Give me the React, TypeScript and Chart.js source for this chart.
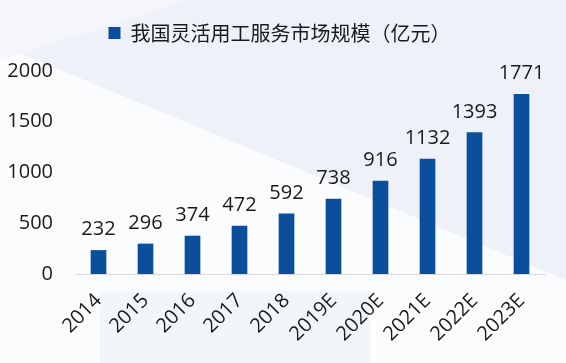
import React, { useEffect, useRef } from "react";
import { Chart, registerables } from "chart.js";

Chart.register(...registerables);

const categories = ["2014", "2015", "2016", "2017", "2018", "2019E", "2020E", "2021E", "2022E", "2023E"];
const marketSize = [232, 296, 374, 472, 592, 738, 916, 1132, 1393, 1771];
const seriesName = "我国灵活用工服务市场规模（亿元）";
const yMin = 0;
const yMax = 2000;
const yStep = 500;

const BAR_COLOR = "#0b4e9b";
const TEXT_COLOR = "#1a1a1a";
const NUM_FONT = "'Open Sans', 'Noto Sans', sans-serif";
const CJK_FONT = "'Noto Sans CJK SC', 'Noto Sans', sans-serif";

export default function App() {
  const ref = useRef<HTMLCanvasElement | null>(null);

  useEffect(() => {
    document.body.style.margin = "0";
    const canvas = ref.current;
    if (!canvas) return;

    const valueLabels = {
      id: "valueLabels",
      afterDatasetsDraw(chart: any) {
        const ctx = chart.ctx;
        const meta = chart.getDatasetMeta(0);
        ctx.save();
        ctx.font = `20px ${NUM_FONT}`;
        ctx.fillStyle = TEXT_COLOR;
        ctx.textAlign = "center";
        ctx.textBaseline = "alphabetic";
        meta.data.forEach((bar: any, i: number) => {
          ctx.fillText(String(marketSize[i]), bar.x, bar.y - 15);
        });
        ctx.restore();
      },
    };

    const legendPlace = {
      id: "legendPlace",
      beforeInit(chart: any) {
        const fit = chart.legend.fit;
        chart.legend.fit = function () {
          fit.call(this);
          this.height += 18;
        };
      },
      afterLayout(chart: any) {
        if (chart.legend) {
          chart.legend.left += 7;
          chart.legend.right += 7;
        }
      },
    };

    const chart = new Chart(canvas, {
      type: "bar",
      data: {
        labels: categories,
        datasets: [
          {
            label: seriesName,
            data: marketSize,
            backgroundColor: BAR_COLOR,
            borderWidth: 0,
            barThickness: 15,
          },
        ],
      },
      options: {
        responsive: false,
        animation: false,
        devicePixelRatio: 1,
        layout: { padding: { top: 13, right: 21, left: 0, bottom: 0 } },
        plugins: {
          tooltip: { enabled: false },
          legend: {
            display: true,
            position: "top",
            labels: {
              boxWidth: 12,
              boxHeight: 12,
              padding: 10,
              color: TEXT_COLOR,
              font: { size: 20, family: CJK_FONT },
            },
          },
        },
        scales: {
          x: {
            grid: { display: false, drawTicks: false },
            border: { display: true, color: "#d6d9de", width: 1 },
            ticks: {
              color: TEXT_COLOR,
              font: { size: 20, family: NUM_FONT },
              minRotation: 45,
              maxRotation: 45,
              autoSkip: false,
              padding: 15,
            },
            afterFit(scale: any) {
              scale.height = 89;
            },
          },
          y: {
            min: yMin,
            max: yMax,
            grid: { display: false, drawTicks: false },
            border: { display: false },
            ticks: {
              stepSize: yStep,
              color: TEXT_COLOR,
              font: { size: 20, family: NUM_FONT },
              padding: 22,
              callback: (v: any) => String(v),
            },
            afterFit(scale: any) {
              scale.width = 75;
            },
          },
        },
      },
      plugins: [valueLabels, legendPlace],
    });

    return () => chart.destroy();
  }, []);

  return (
    <div
      style={{
        position: "fixed",
        left: 0,
        top: 0,
        width: 566,
        height: 363,
        overflow: "hidden",
        background: "#eef2f8",
      }}
    >
      <div
        style={{
          position: "absolute",
          inset: 0,
          background: "#fbfcfe",
          clipPath: "polygon(0px 45px, 566px 280px, 566px 363px, 0px 363px)",
        }}
      />
      <div
        style={{
          position: "absolute",
          inset: 0,
          background: "#f2f5f9",
          clipPath: "polygon(100px 292px, 370px 292px, 370px 363px, 100px 363px)",
        }}
      />
      <div
        style={{
          position: "absolute",
          inset: 0,
          background: "#f4f6fa",
          clipPath: "polygon(0px 0px, 190px 0px, 0px 60px)",
        }}
      />
      <canvas ref={ref} width={566} height={363} style={{ display: "block", position: "relative" }} />
    </div>
  );
}
